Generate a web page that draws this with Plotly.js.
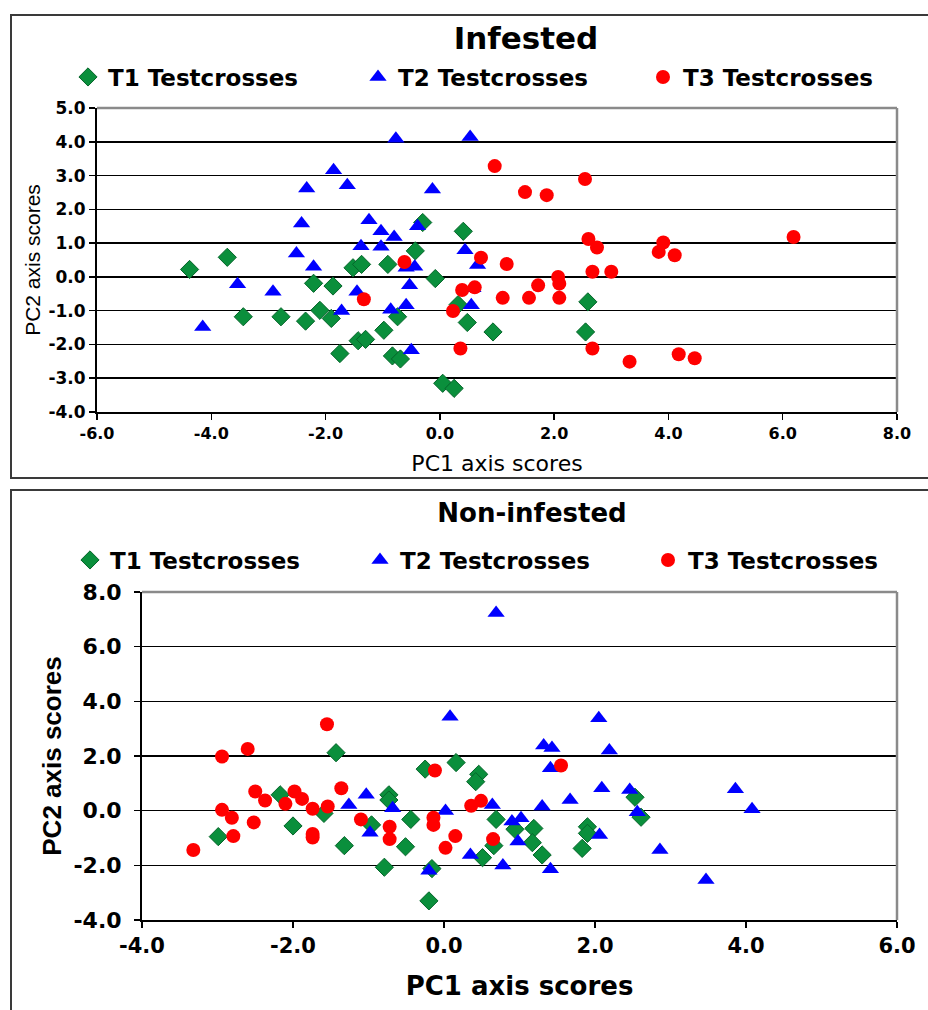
<!DOCTYPE html>
<html><head><meta charset="utf-8">
<script src="https://cdn.plot.ly/plotly-3.0.1.min.js"></script>
<style>
html,body{margin:0;padding:0;background:#fff;}
#top{position:absolute;left:0;top:0;width:928px;height:487px;}
#bot{position:absolute;left:0;top:487px;width:928px;height:523px;}
</style>
</head><body><div id="top"></div><div id="bot"></div>
<script>
// ---------- Data: Infested ----------
const seriesNames = ['T1 Testcrosses', 'T2 Testcrosses', 'T3 Testcrosses'];
const infT1x = [-4.38,-3.72,-3.44,-2.78,-2.35,-2.21,-1.87,-2.10,-1.90,-1.75,-1.52,-1.37,-1.43,-1.30,-0.91,-0.43,-0.30,0.41,-0.08,-0.74,0.32,0.48,-0.98,0.93,-0.83,-0.69,0.05,0.25,2.59,2.55];
const infT1y = [0.22,0.58,-1.18,-1.18,-1.31,-0.19,-0.27,-0.99,-1.23,-2.27,0.27,0.37,-1.89,-1.85,0.37,0.77,1.61,1.35,-0.05,-1.18,-0.82,-1.35,-1.58,-1.63,-2.34,-2.43,-3.15,-3.30,-0.74,-1.63];
const infT2x = [-1.86,-2.33,-1.62,-2.42,-1.24,-2.51,-1.38,-2.21,-3.54,-2.92,-1.45,-1.72,-4.15,-0.77,0.53,-0.13,-1.03,-0.80,-0.39,-1.03,0.44,-0.59,-0.44,0.66,-0.53,0.58,0.55,-0.86,-0.59,-0.50];
const infT2y = [3.16,2.62,2.71,1.58,1.68,0.69,0.91,0.30,-0.22,-0.44,-0.44,-1.01,-1.48,4.09,4.14,2.59,1.35,1.18,1.50,0.89,0.79,0.27,0.30,0.35,-0.25,-0.34,-0.84,-0.97,-0.84,-2.17];
const infT3x = [-1.33,0.96,2.54,1.49,1.87,2.60,2.75,-0.62,0.72,1.17,2.07,2.09,2.67,3.00,1.72,0.39,0.61,1.10,1.56,2.09,0.23,0.36,2.67,3.91,3.83,4.11,6.19,3.32,4.18,4.46];
const infT3y = [-0.66,3.28,2.90,2.51,2.42,1.12,0.87,0.44,0.57,0.38,0.00,-0.20,0.15,0.15,-0.25,-0.39,-0.31,-0.62,-0.62,-0.62,-1.01,-2.12,-2.12,1.02,0.74,0.64,1.18,-2.51,-2.29,-2.41];

// ---------- Data: Non-infested ----------
const nonT1x = [-2.99,-2.17,-2.00,-1.59,-1.43,-1.32,-0.96,-0.73,-0.73,-0.79,-0.51,-0.44,2.53,2.61,0.16,-0.25,0.46,0.42,-0.20,-0.16,0.69,0.66,0.51,0.94,1.19,1.17,1.30,1.90,1.90,1.83];
const nonT1y = [-0.95,0.58,-0.56,-0.10,2.12,-1.28,-0.52,0.58,0.39,-2.07,-1.32,-0.32,0.49,-0.24,1.76,1.52,1.33,1.06,-3.30,-2.12,-0.32,-1.28,-1.72,-0.68,-0.65,-1.17,-1.62,-0.59,-0.83,-1.38];
const nonT2x = [-1.26,-1.03,-0.98,-0.68,0.69,0.08,2.05,1.32,1.43,2.19,1.41,2.09,2.46,1.67,1.30,0.64,0.02,0.90,1.02,2.56,0.98,2.06,0.35,0.78,1.41,-0.20,2.86,3.86,4.08,3.47];
const nonT2y = [0.21,0.58,-0.81,0.09,7.23,3.44,3.38,2.38,2.29,2.20,1.55,0.82,0.76,0.39,0.15,0.21,-0.01,-0.40,-0.28,-0.06,-1.13,-0.89,-1.62,-2.01,-2.14,-2.20,-1.44,0.78,0.05,-2.54];
const nonT3x = [-3.32,-2.94,-2.60,-2.94,-2.81,-2.79,-2.50,-2.37,-2.52,-2.10,-1.98,-1.88,-1.74,-1.74,-1.74,-1.54,-1.55,-1.36,-1.10,-0.72,-0.72,-0.12,-0.14,-0.14,0.02,0.15,0.36,0.49,0.65,1.55];
const nonT3y = [-1.44,1.98,2.26,0.03,-0.26,-0.93,0.70,0.37,-0.43,0.25,0.70,0.43,0.07,-0.85,-0.98,0.15,3.16,0.82,-0.32,-0.59,-1.04,1.47,-0.26,-0.52,-1.36,-0.93,0.18,0.36,-1.04,1.65];

// ---------- Tick labels ----------
const infXTicks = [-6,-4,-2,0,2,4,6,8];
const infXTickText = ['-6.0','-4.0','-2.0','0.0','2.0','4.0','6.0','8.0'];
const infYTicks = [-4,-3,-2,-1,0,1,2,3,4,5];
const infYTickText = ['-4.0','-3.0','-2.0','-1.0','0.0','1.0','2.0','3.0','4.0','5.0'];
const nonXTicks = [-4,-2,0,2,4,6];
const nonXTickText = ['-4.0','-2.0','0.0','2.0','4.0','6.0'];
const nonYTicks = [-4,-2,0,2,4,6,8];
const nonYTickText = ['-4.0','-2.0','0.0','2.0','4.0','6.0','8.0'];

// ---------- Styles ----------
const GREEN = '#0a8f3c', GREEN_LINE = '#05652a', BLUE = '#0000ff', RED = '#ff0000';
const markerStyles = [
  {symbol:'diamond', size:14, color:GREEN, line:{color:GREEN_LINE, width:1}},
  {symbol:'triangle-up', size:15, color:BLUE, line:{color:BLUE, width:0}},
  {symbol:'circle', size:14, color:RED, line:{color:RED, width:0}}
];
const legendIds = ['legend', 'legend2', 'legend3'];
const DJ = 'DejaVu Sans', LS = 'Liberation Sans, Arial, sans-serif';

function traces(xs, ys){
  return xs.map((x,i)=>({
    type:'scatter', mode:'markers', x:x, y:ys[i], name:seriesNames[i],
    marker:markerStyles[i], legend:legendIds[i], cliponaxis:false, hoverinfo:'x+y'
  }));
}

function legends(layout, xs, yPix, H){
  xs.forEach((x, i) => {
    layout[legendIds[i]] = {
      orientation:'h', xref:'container', yref:'container', x:x/layout.width, y:1-yPix/H,
      xanchor:'left', yanchor:'middle',
      font:{family:DJ, size:23, color:'#000', weight:'bold'},
      bgcolor:'rgba(0,0,0,0)'
    };
  });
}

function frameShapes(l, t, pw, ph, top, left, bottom, right){
  const px = v => (v - l)/pw;
  const py = v => (t + ph - v)/ph;
  return [
    {type:'rect', xref:'paper', yref:'paper', x0:px(left), x1:px(right), y0:py(bottom), y1:py(top),
     line:{color:'#3a3a3a', width:2}, fillcolor:'rgba(0,0,0,0)', layer:'below'},
    {type:'line', xref:'paper', yref:'paper', x0:0, x1:1, y0:1, y1:1, line:{color:'#8a8a8a', width:2.5}, layer:'above'},
    {type:'line', xref:'paper', yref:'paper', x0:1, x1:1, y0:0, y1:1, line:{color:'#8a8a8a', width:2.5}, layer:'above'}
  ];
}

// ---------- Top chart ----------
const tW=928, tH=487, tL=97, tR=31, tT=108, tB=75;
const tPH = tH - tT - tB;
const topLayout = {
  width:tW, height:tH,
  margin:{l:tL, r:tR, t:tT, b:tB},
  paper_bgcolor:'#fff', plot_bgcolor:'#fff',
  title:{text:'Infested', font:{family:DJ, size:31, color:'#000', weight:'bold'},
         x:526/tW, xref:'container', xanchor:'center', y:1-38/tH, yref:'container', yanchor:'middle'},
  showlegend:true,
  xaxis:{range:[-6,8], tickmode:'array', tickvals:infXTicks, ticktext:infXTickText,
         showgrid:false, zeroline:false, showline:true, linecolor:'#000', linewidth:2,
         ticks:'outside', ticklen:6, tickwidth:1.5, tickcolor:'#000',
         tickfont:{family:DJ, size:16, color:'#000', weight:'bold'},
         title:{text:'PC1 axis scores', font:{family:DJ, size:22, color:'#000'}, standoff:13}},
  yaxis:{range:[-4,5], tickmode:'array', tickvals:infYTicks, ticktext:infYTickText,
         showgrid:true, gridcolor:'#000', gridwidth:1.5, zeroline:false, showline:true, linecolor:'#000', linewidth:2,
         ticks:'outside', ticklen:6, tickwidth:1.5, tickcolor:'#000',
         tickfont:{family:DJ, size:17, color:'#000', weight:'bold'},
         title:{text:'PC2 axis scores', font:{family:LS, size:21, color:'#000'}, standoff:2}},
  shapes: frameShapes(tL, tT, tW-tL-tR, tPH, 15, 11, 478, 960)
};
legends(topLayout, [68, 358, 643], 77, tH);
Plotly.newPlot('top', traces([infT1x, infT2x, infT3x],[infT1y, infT2y, infT3y]), topLayout, {displayModeBar:false, staticPlot:true});

// ---------- Bottom chart ----------
const bW=928, bH=523, bL=142, bR=31, bT=105, bB=90;
const bPH = bH - bT - bB;
const botLayout = {
  width:bW, height:bH,
  margin:{l:bL, r:bR, t:bT, b:bB},
  paper_bgcolor:'#fff', plot_bgcolor:'#fff',
  title:{text:'Non-infested', font:{family:DJ, size:26, color:'#000', weight:'bold'},
         x:532/bW, xref:'container', xanchor:'center', y:1-26/bH, yref:'container', yanchor:'middle'},
  showlegend:true,
  xaxis:{range:[-4,6], tickmode:'array', tickvals:nonXTicks, ticktext:nonXTickText,
         showgrid:false, zeroline:false, showline:true, linecolor:'#000', linewidth:2,
         ticks:'outside', ticklen:6, tickwidth:1.5, tickcolor:'#000',
         tickfont:{family:DJ, size:21, color:'#000', weight:'bold'},
         title:{text:'PC1 axis scores', font:{family:DJ, size:26, color:'#000', weight:'bold'}, standoff:20}},
  yaxis:{range:[-4,8], tickmode:'array', tickvals:nonYTicks, ticktext:nonYTickText,
         showgrid:true, gridcolor:'#000', gridwidth:1.5, zeroline:false, showline:true, linecolor:'#000', linewidth:2,
         ticks:'outside', ticklen:6, tickwidth:1.5, tickcolor:'#000', ticklabelstandoff:8,
         tickfont:{family:DJ, size:22, color:'#000', weight:'bold'},
         title:{text:'PC2 axis scores', font:{family:LS, size:26, color:'#000', weight:'bold'}, standoff:4}},
  shapes: frameShapes(bL, bT, bW-bL-bR, bPH, 3, 11, 700, 960)
};
legends(botLayout, [70, 360, 648], 73, bH);
Plotly.newPlot('bot', traces([nonT1x, nonT2x, nonT3x],[nonT1y, nonT2y, nonT3y]), botLayout, {displayModeBar:false, staticPlot:true});
</script>
</body></html>
